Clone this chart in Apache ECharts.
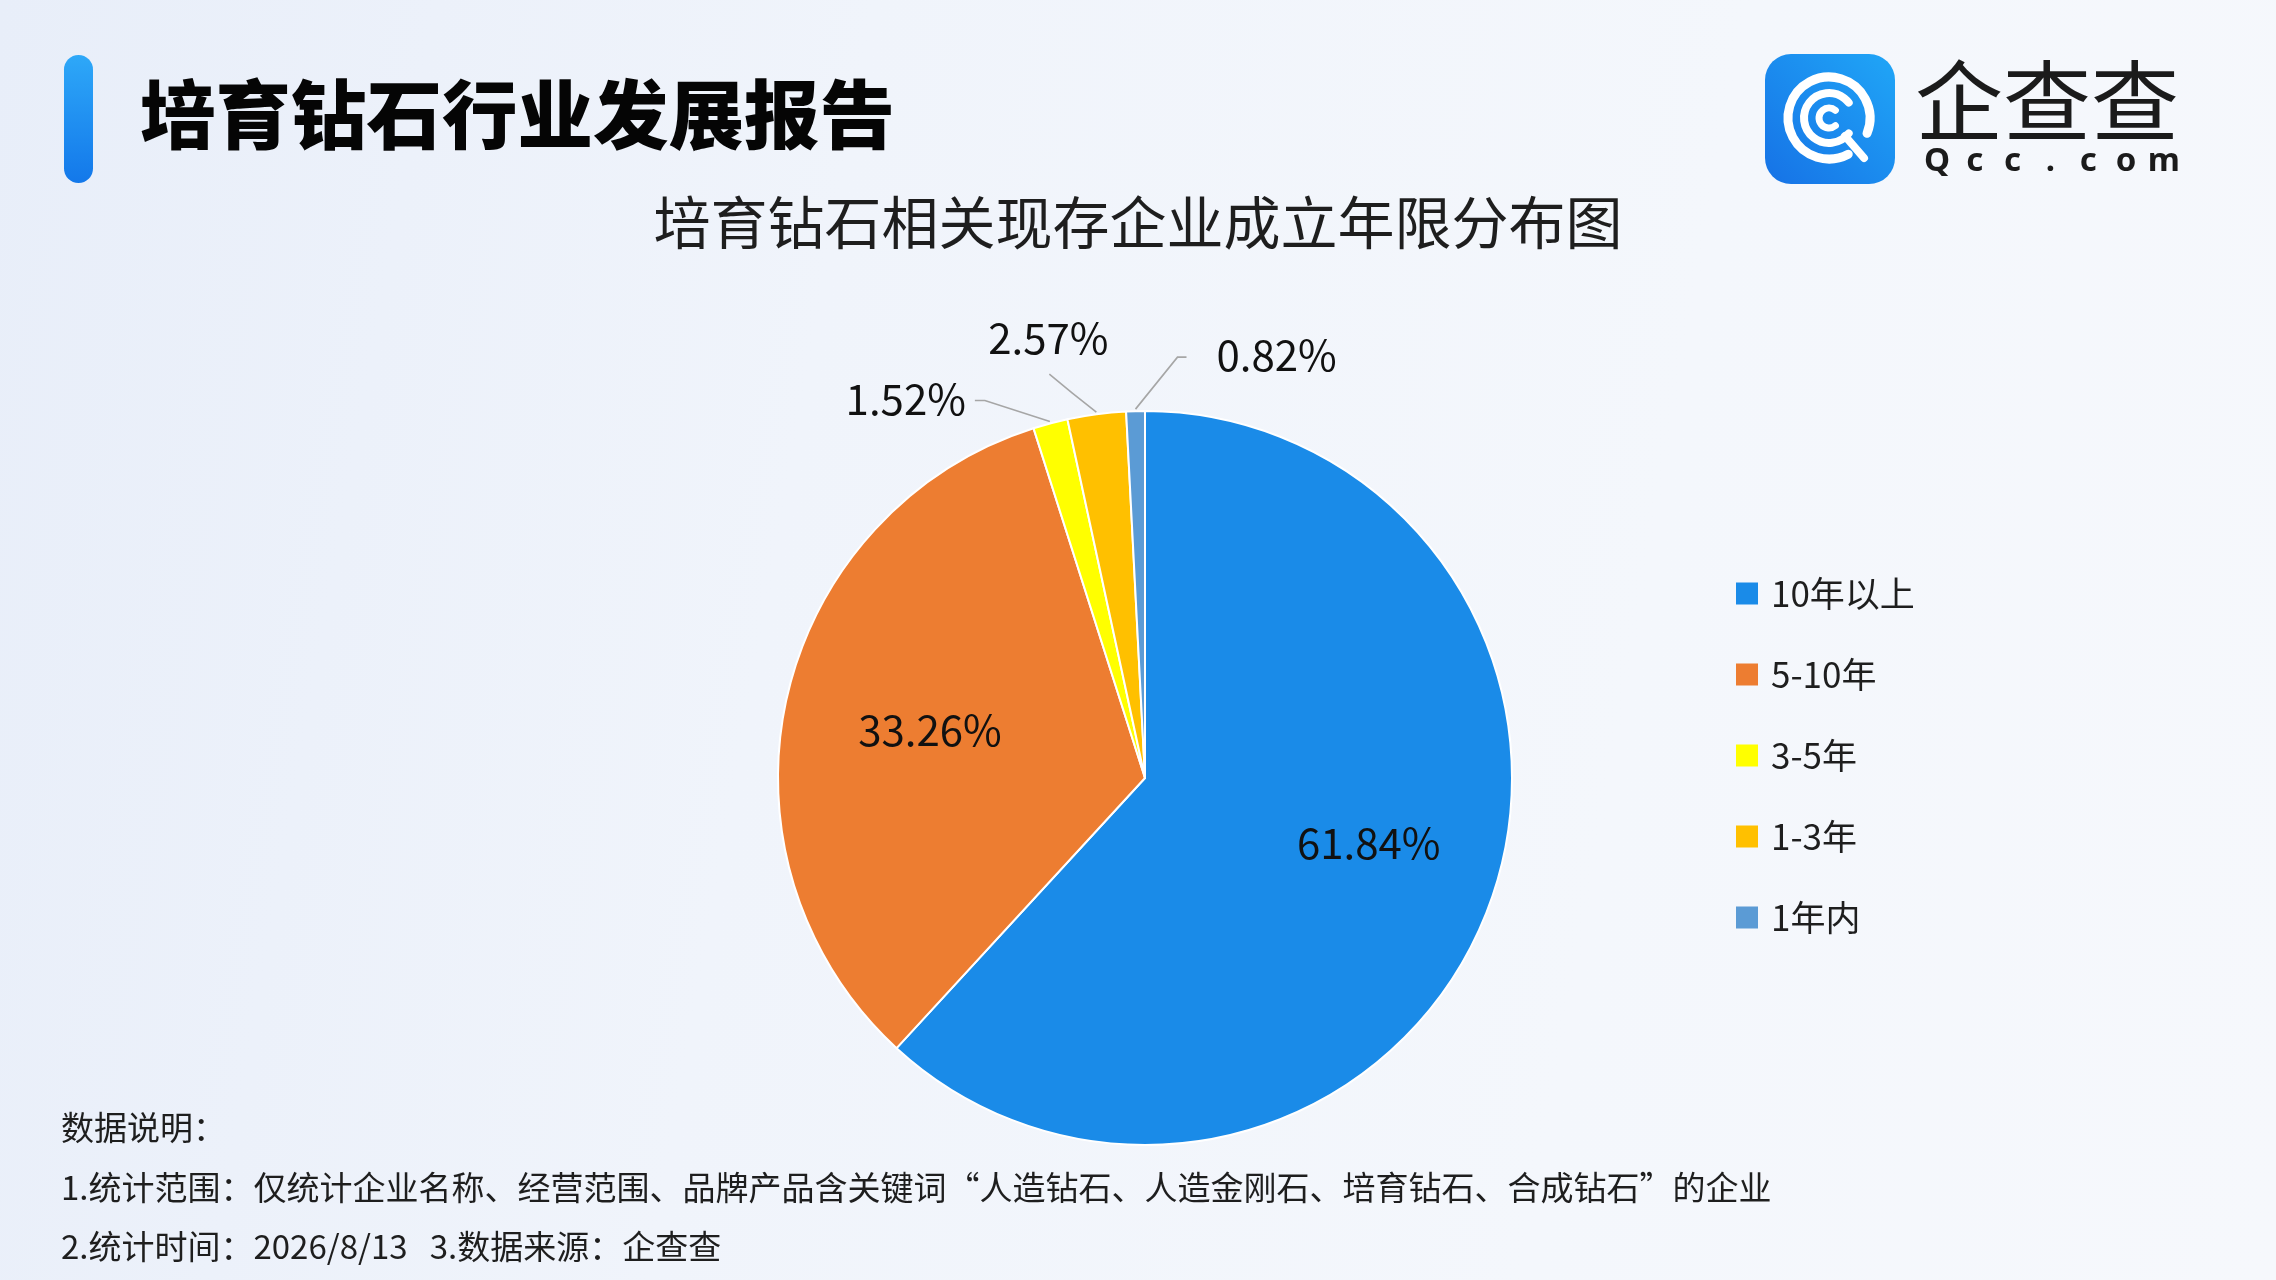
<!DOCTYPE html>
<html>
<head>
<meta charset="utf-8">
<script src="https://cdn.jsdelivr.net/npm/echarts@6/dist/echarts.min.js"></script>
<style>
html,body{margin:0;padding:0;width:2276px;height:1280px;overflow:hidden;
  background:linear-gradient(100deg,#e8eef9 0%,#f0f4fb 35%,#f4f7fc 70%,#f6f8fc 100%);}
#c{width:2276px;height:1280px;}
</style>
</head>
<body>
<div id="c"></div>
<script>
const categories = ['10年以上', '5-10年', '3-5年', '1-3年', '1年内'];
const shares = [61.84, 33.26, 1.52, 2.57, 0.82];
const sliceColors = ['#1a8be8', '#ed7d31', '#ffff00', '#ffc000', '#5b9bd5'];
const pageTitle = '培育钻石行业发展报告';
const chartTitle = '培育钻石相关现存企业成立年限分布图';
const noteLines = [
  '数据说明：',
  '1.统计范围：仅统计企业名称、经营范围、品牌产品含关键词“人造钻石、人造金刚石、培育钻石、合成钻石”的企业',
  '2.统计时间：2026/8/13   3.数据来源：企查查'
];
const logoName = '企查查';
const logoDomain = 'Qcc.com';

const FONT = '"Noto Sans CJK SC","Noto Sans",sans-serif';
const CX = 1145, CY = 778, R = 367;
const total = shares.reduce((a, b) => a + b, 0);
function midAngle(i) {
  let s = 0;
  for (let k = 0; k < i; k++) s += shares[k];
  return (s + shares[i] / 2) / total * 2 * Math.PI;
}
function polar(a, rr) { return [CX + rr * Math.sin(a), CY - rr * Math.cos(a)]; }

const chart = echarts.init(document.getElementById('c'), null, {renderer: 'canvas'});

const LX = 1829, LY = 118;
const deg = Math.PI / 180;
const graphics = [
  {type: 'rect', shape: {x: 64, y: 55, width: 29, height: 128, r: 14.5},
   style: {fill: new echarts.graphic.LinearGradient(0, 0, 0, 1, [{offset: 0, color: '#2ea8f8'}, {offset: 1, color: '#1378ea'}])}},
  {type: 'text', x: 140, y: 114, style: {text: pageTitle, font: '900 75.5px ' + FONT, fill: '#050505', verticalAlign: 'middle'}},
  {type: 'rect', shape: {x: 1765, y: 54, width: 130, height: 130, r: 26},
   style: {fill: new echarts.graphic.LinearGradient(0, 1, 1, 0, [{offset: 0, color: '#1672e6'}, {offset: 1, color: '#20a6f7'}])}},
  {type: 'arc', shape: {cx: LX, cy: LY, r: 41, startAngle: 62 * deg, endAngle: 382 * deg, clockwise: true},
   style: {stroke: '#fff', lineWidth: 9, fill: null, lineCap: 'round'}},
  {type: 'arc', shape: {cx: LX, cy: LY, r: 25, startAngle: 38 * deg, endAngle: 322 * deg, clockwise: true},
   style: {stroke: '#fff', lineWidth: 8, fill: null, lineCap: 'round'}},
  {type: 'arc', shape: {cx: LX, cy: LY, r: 10, startAngle: 50 * deg, endAngle: 310 * deg, clockwise: true},
   style: {stroke: '#fff', lineWidth: 7, fill: null, lineCap: 'round'}},
  {type: 'line', shape: {x1: LX + 16, y1: LY + 18, x2: LX + 35, y2: LY + 40},
   style: {stroke: '#fff', lineWidth: 8, lineCap: 'round'}},
  {type: 'text', x: 1915, y: 101, style: {text: logoName, font: '400 88px ' + FONT, fill: '#1b1b1b', verticalAlign: 'middle'}}
];
logoDomain.split('').forEach((ch, i) => {
  graphics.push({type: 'text', x: 1937 + i * 37.8, y: 162,
    style: {text: ch, font: 'bold 33px "Noto Sans","DejaVu Sans",sans-serif', fill: '#1b1b1b', align: 'center', verticalAlign: 'middle'}});
});
const noteY = [1127, 1187, 1246];
noteLines.forEach((t, i) => {
  graphics.push({type: 'text', x: 61, y: noteY[i],
    style: {text: t, font: '400 33px ' + FONT, fill: '#1e1e1e', verticalAlign: 'middle'}});
});

const option = {
  backgroundColor: 'transparent',
  animation: false,
  title: {
    text: chartTitle, left: 'center', top: 194, padding: 0,
    textStyle: {fontFamily: FONT, fontSize: 57, fontWeight: 400, color: '#1e1e1e', lineHeight: 57}
  },
  legend: {
    data: categories, orient: 'vertical', left: 1736, top: 576, padding: 0,
    icon: 'rect', itemWidth: 22, itemHeight: 22, itemGap: 46,
    itemStyle: {borderWidth: 0},
    textStyle: {fontFamily: FONT, fontSize: 35, color: '#1e1e1e', lineHeight: 35, padding: [0, 0, 0, 8]}
  },
  graphic: graphics,
  series: [{
    type: 'pie',
    center: [CX, CY],
    radius: R,
    startAngle: 90,
    clockwise: true,
    avoidLabelOverlap: false,
    emphasis: {disabled: true},
    itemStyle: {borderColor: '#ffffff', borderWidth: 2},
    label: {
      show: true, formatter: p => p.value.toFixed(2) + '%',
      fontFamily: FONT, fontSize: 42, color: '#111111'
    },
    labelLine: {show: true, lineStyle: {color: '#a6a6a6', width: 1.6}},
    data: categories.map((name, i) => ({
      name, value: shares[i],
      itemStyle: {color: sliceColors[i]},
      label: {position: i < 2 ? 'inside' : 'outside'},
      labelLine: {show: i >= 2}
    })),
    labelLayout: function (params) {
      const i = params.dataIndex;
      const a = midAngle(i);
      if (i === 0) {
        const p = polar(a - 5 * deg, R * 0.635);
        return {x: p[0], y: p[1], align: 'center', verticalAlign: 'middle'};
      }
      if (i === 1) {
        const p = polar(a, R * 0.6);
        return {x: p[0], y: p[1], align: 'center', verticalAlign: 'middle'};
      }
      const s = polar(a, R + 2);
      if (i === 2) {
        return {x: s[0] - 84, y: s[1] - 22, align: 'right', verticalAlign: 'middle',
          labelLinePoints: [[s[0], s[1]], [s[0] - 65, s[1] - 21], [s[0] - 75, s[1] - 21]]};
      }
      if (i === 3) {
        return {x: s[0] - 48, y: s[1] - 74, align: 'center', verticalAlign: 'middle',
          labelLinePoints: [[s[0], s[1]], [s[0] - 24, s[1] - 19], [s[0] - 47, s[1] - 38]]};
      }
      return {x: s[0] + 81, y: s[1] - 54, align: 'left', verticalAlign: 'middle',
        labelLinePoints: [[s[0], s[1]], [s[0] + 42, s[1] - 52], [s[0] + 51, s[1] - 52]]};
    }
  }]
};
chart.setOption(option);
</script>
</body>
</html>
